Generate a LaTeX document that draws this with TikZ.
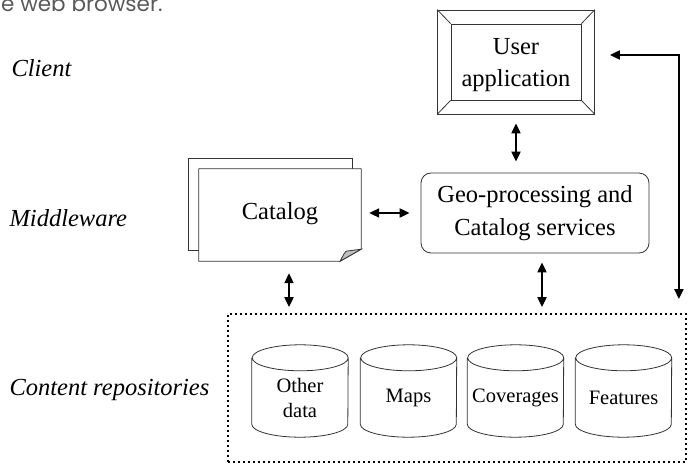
\documentclass[tikz,border=0pt]{standalone}
\usepackage{fontspec}
\setmainfont{Liberation Serif}
\newfontfamily\webfont{Poppins}
\usetikzlibrary{arrows.meta}

\tikzset{
    boite/.style={draw=black!80, line width=0.8pt, align=center,
        font=\fontsize{24.5}{33}\selectfont},
    fleche/.style={line width=2pt, <->},
    couche/.style={anchor=base west, font=\fontsize{24.5}{30}\selectfont\itshape},
    depot/.style={minimum width=96pt, minimum height=92pt, inner sep=0pt},
    depottexte/.style={align=center, font=\fontsize{20.5}{25}\selectfont},
    trait/.style={draw=black!80, line width=0.8pt},
}

\begin{document}
\begin{tikzpicture}[x=1pt, y=-1pt, >={Triangle[length=10pt, width=9pt]}]
    \useasboundingbox (0,0) rectangle (688,465);

    % -- Fragment du texte au-dessus --
    \node[anchor=base west, text=black!65, inner sep=0pt, font=\webfont\fontsize{21.5}{24}\selectfont] (web) at (1,12) {e web browser.};

    % -- Couches --
    \node[couche] (client) at (8,77) {Client};
    \node[couche] (middle) at (6,226) {Middleware};
    \node[couche] (content) at (6,395) {Content repositories};

    % -- Application utilisateur (cadre biseauté) --
    \node[trait, minimum width=157pt, minimum height=104pt] (frame) at (516,62) {};
    \node[trait, minimum width=130pt, minimum height=76pt, inner sep=0pt] (user) at (516,62) {};
    \foreach \c in {north west, north east, south west, south east}
        \draw[trait] (frame.\c) -- (user.\c);
    \node[align=center, font=\fontsize{24.5}{32}\selectfont] (usertexte) at ([yshift=-3pt]user.center) {User\\application};

    % -- Services --
    \node[boite, rounded corners=10pt, minimum width=228pt, minimum height=80pt] (geo) at (535,213) {Geo-processing and\\Catalog services};

    % -- Catalogue (pages empilées) --
    \node[minimum width=162pt, minimum height=92pt] (cat) at (280,215) {};
    \draw[trait, fill=white] ([shift={(-10,-11)}]cat.south west) rectangle ([shift={(-9,-10)}]cat.north east);
    \draw[trait, fill=white] (cat.north west) -- (cat.north east) -- ([yshift=12pt]cat.south east) -- ([xshift=-21pt]cat.south east) -- (cat.south west) -- cycle;
    \filldraw[trait, fill=black!25] ([yshift=12pt]cat.south east) -- ([xshift=-21pt]cat.south east) .. controls ([shift={(-17,-8)}]cat.south east) .. ([shift={(-15,-10)}]cat.south east) -- cycle;
    \node[font=\fontsize{24.5}{30}\selectfont] (catlabel) at ([yshift=1pt]cat.center) {Catalog};

    % -- Dépôts de contenu --
    \node[draw, line width=1.8pt, dash pattern=on 1.8pt off 3.2pt, minimum width=458pt, minimum height=148pt] (repos) at (457,388) {};
    \foreach \name/\texte/\x in {other/Other\\data/300, maps/Maps/408.5, cov/Coverages/515.5, feat/Features/623.5} {
        \node[depot] (\name) at (\x,391) {};
        \draw[trait] ([yshift=-13pt]\name.north west) -- ([yshift=13pt]\name.south west)
            arc[start angle=180, end angle=360, x radius=48pt, y radius=13pt]
            -- ([yshift=-13pt]\name.north east)
            arc[start angle=0, end angle=360, x radius=48pt, y radius=13pt];
        \node[depottexte] (\name-t) at ([yshift=-7pt]\name.center) {\texte};
    }

    % -- Flèches --
    \draw[fleche, shorten <=9pt, shorten >=11pt] (frame.south) -- (frame.south |- geo.north);
    \draw[fleche, shorten <=8pt, shorten >=11pt] (cat.east |- geo.west) -- (geo.west);
    \draw[fleche, shorten <=12pt, shorten >=6pt] ([xshift=9pt]cat.south) -- ([xshift=9pt]cat.south |- repos.north);
    \draw[fleche, shorten <=9pt, shorten >=6pt] ([xshift=7pt]geo.south) -- ([xshift=7pt]geo.south |- repos.north);
    \draw[fleche, shorten <=15pt, shorten >=14pt] ([yshift=7pt]frame.east) -| ([xshift=-8pt]repos.north east);
\end{tikzpicture}
\end{document}
